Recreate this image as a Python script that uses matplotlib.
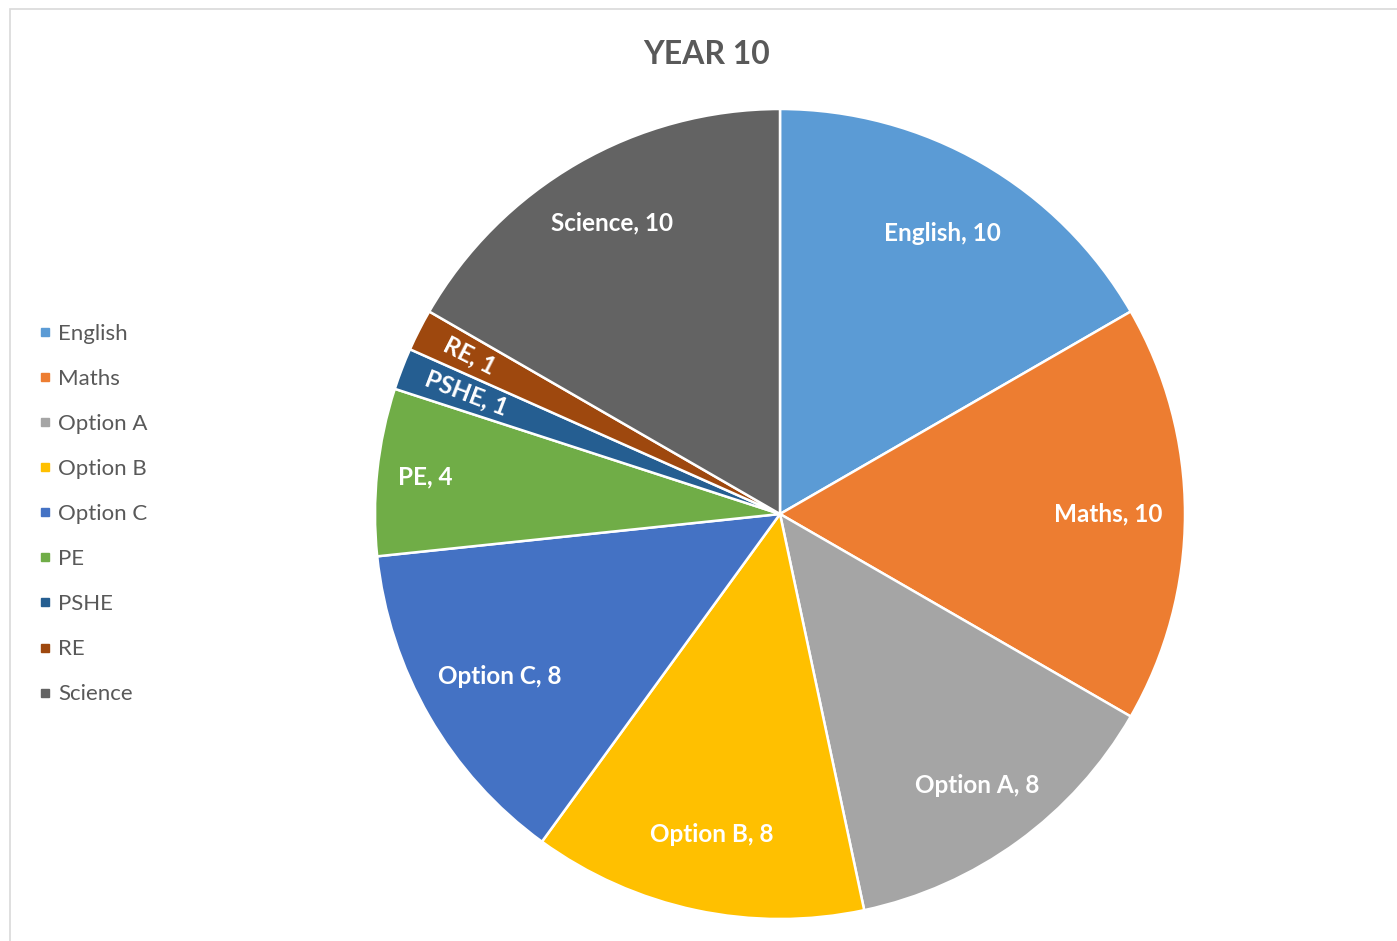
import math

import matplotlib.pyplot as plt
from matplotlib.lines import Line2D
from matplotlib.patches import Rectangle

subjects = ["English", "Maths", "Option A", "Option B", "Option C", "PE", "PSHE", "RE", "Science"]
lessons = [10, 10, 8, 8, 8, 4, 1, 1, 10]
colors = ["#5B9BD5", "#ED7D31", "#A5A5A5", "#FFC000", "#4472C4",
          "#70AD47", "#255E91", "#9E480E", "#636363"]
# how far out each data label sits, as a fraction of the radius
label_r = [0.80, 0.81, 0.83, 0.81, 0.80, 0.88, 0.83, 0.86, 0.83]
rotated = {"PSHE", "RE"}

plt.rcParams["font.family"] = ["Lato", "DejaVu Sans"]
TEXT = "#595959"

W, H = 1397, 941
fig = plt.figure(figsize=(W / 100, H / 100), dpi=100)

# chart area border (only top and left edges show in the crop)
fig.add_artist(Rectangle((9.5 / W, -0.1), 1.2, 1 + 0.1 - 9.5 / H, transform=fig.transFigure,
                         fill=False, edgecolor="#D9D9D9", linewidth=1.2))

cx, cy, R = 780, 514, 405
ax = fig.add_axes([(cx - R) / W, (H - cy - R) / H, 2 * R / W, 2 * R / H])
wedges, _ = ax.pie(lessons, colors=colors, startangle=90, counterclock=False, radius=1,
                   wedgeprops=dict(edgecolor="white", linewidth=1.8))
ax.set_xlim(-1, 1)
ax.set_ylim(-1, 1)
ax.set_aspect("equal")
ax.axis("off")

for w, name, n, r in zip(wedges, subjects, lessons, label_r):
    mid = (w.theta1 + w.theta2) / 2
    x, y = r * math.cos(math.radians(mid)), r * math.sin(math.radians(mid))
    rot = mid - 180 if name in rotated else 0
    ax.text(x, y, f"{name}, {n}", ha="center", va="center", rotation=rot,
            rotation_mode="anchor", color="white", fontsize=17.5, fontweight="bold")

fig.text(707 / W, 1 - 54 / H, "YEAR 10", ha="center", va="center",
         fontsize=23, fontweight="bold", color=TEXT)

handles = [Line2D([], [], marker="s", linestyle="", markersize=6, color=c) for c in colors]
fig.legend(handles, subjects, loc="center left", bbox_to_anchor=(28 / W, 1 - 514 / H),
           frameon=False, fontsize=16, labelcolor=TEXT, handlelength=0.5,
           handletextpad=0.35, labelspacing=1.13, borderpad=0)

fig.savefig("out.png", dpi=100, facecolor="white")
